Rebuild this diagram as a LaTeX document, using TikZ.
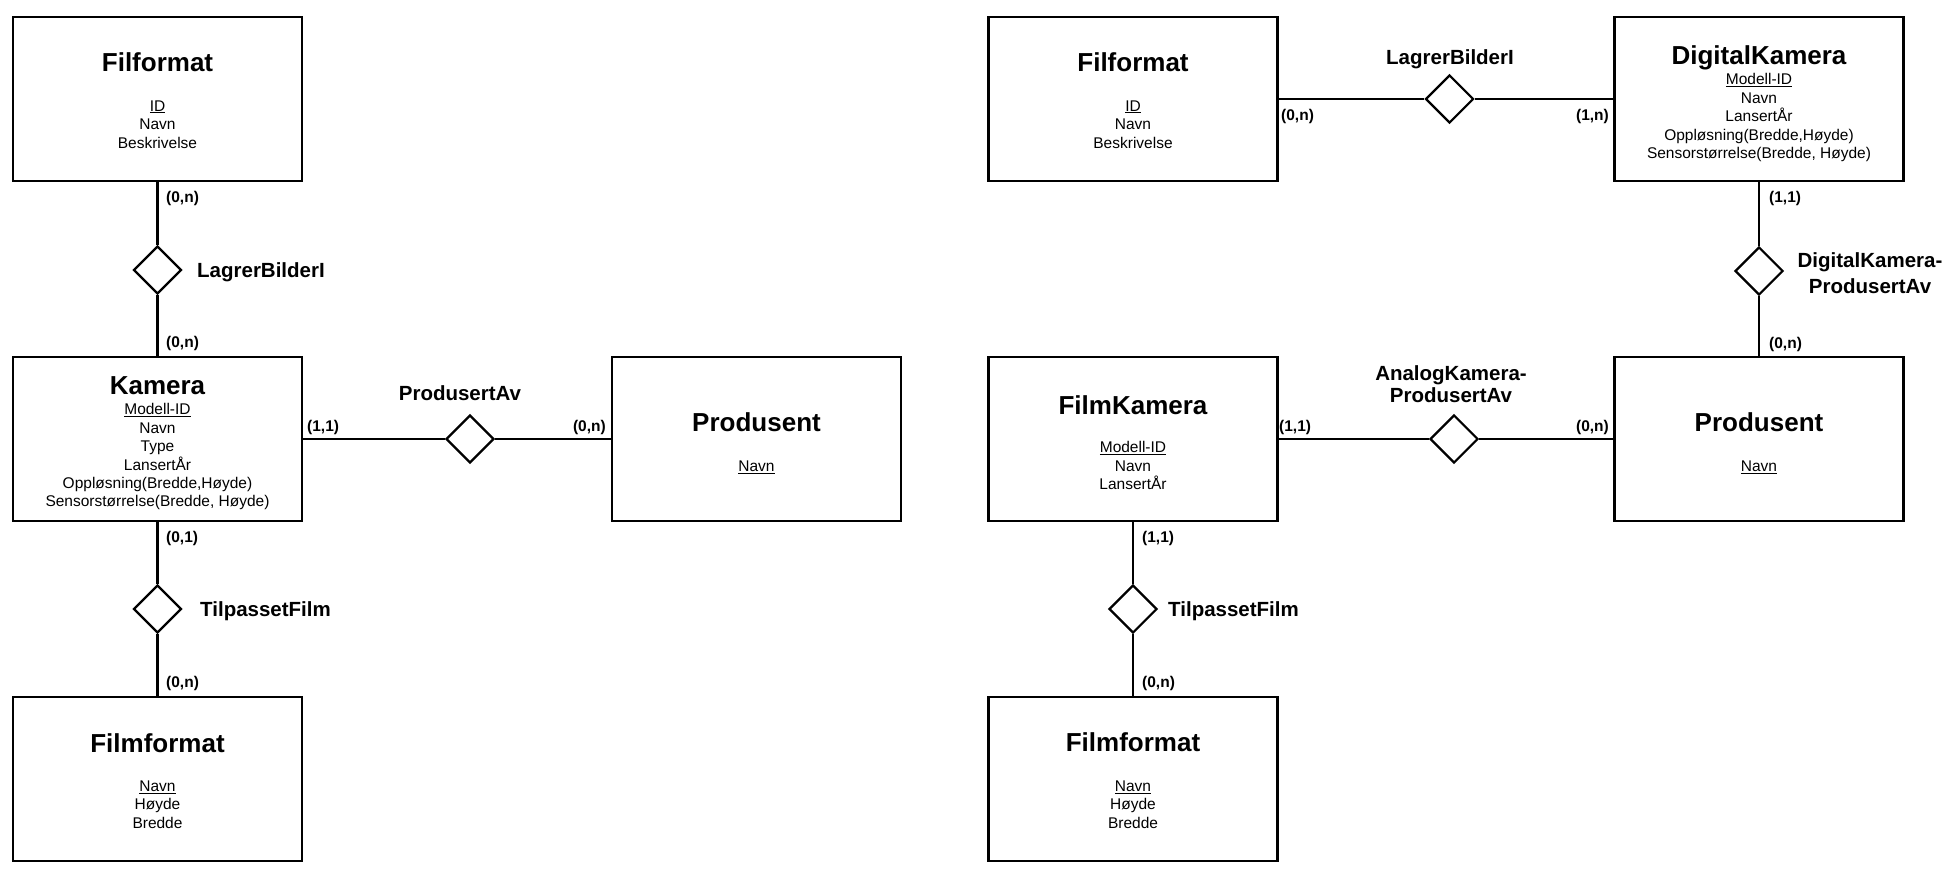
\documentclass[tikz,border=0pt]{standalone}
\usepackage{fontspec}
\setmainfont{Liberation Sans}
\usetikzlibrary{shapes.geometric}
\begin{document}
\begin{tikzpicture}[x=1pt,y=-1pt,
  entity/.style={draw, line width=2.4pt, rectangle, minimum width=289pt, minimum height=164pt, inner sep=0pt},
  rel/.style={draw, diamond, line width=2.2pt, minimum width=48pt, minimum height=48pt, inner sep=0pt, aspect=1},
  etitle/.style={font=\fontsize{26}{30}\selectfont\bfseries, anchor=base, inner sep=0pt},
  attr/.style={font=\fontsize{15.5}{18.4}\selectfont, align=center, anchor=north, inner sep=0pt},
  rname/.style={font=\fontsize{20.5}{26}\selectfont\bfseries, inner sep=0pt},
  card/.style={font=\fontsize{15.5}{18}\selectfont\bfseries, inner sep=0pt},
  link/.style={line width=2.2pt}]
\useasboundingbox (0,0) rectangle (1960,872);

% ---------------- left diagram ----------------
\node[entity] (ffL) at (157.5,99) {};
\node[etitle] (ffLt) at (157.5,71.3) {Filformat};
\node[attr] (ffLa) at (157.5,100.4) {\underline{ID}\\Navn\\Beskrivelse};

\node[entity] (kam) at (157.5,439) {};
\node[etitle] (kamt) at (157.5,394.3) {Kamera};
\node[attr] (kama) at (157.5,403.4) {\underline{Modell-ID}\\Navn\\Type\\LansertÅr\\Oppløsning(Bredde,Høyde)\\Sensorstørrelse(Bredde, Høyde)};

\node[entity] (prL) at (756.5,439) {};
\node[etitle] (prLt) at (756.5,431.3) {Produsent};
\node[attr] (prLa) at (756.5,460.4) {\underline{Navn}};

\node[entity] (fmL) at (157.5,779) {};
\node[etitle] (fmLt) at (157.5,752.3) {Filmformat};
\node[attr] (fmLa) at (157.5,780.4) {\underline{Navn}\\Høyde\\Bredde};

\node[rel] (lbL) at (157.5,270) {};
\node[rname, anchor=base west] (lbLn) at (197,277.4) {LagrerBilderI};
\node[rel] (tfL) at (157.5,609) {};
\node[rname, anchor=base west] (tfLn) at (200,616.4) {TilpassetFilm};
\node[rel] (paL) at (470,439) {};
\node[rname, anchor=base] (paLn) at (460,400.4) {ProdusertAv};

\draw[link] (ffL) -- (lbL);
\draw[link] (lbL) -- (kam);
\draw[link] (kam) -- (tfL);
\draw[link] (tfL) -- (fmL);
\draw[link] (kam) -- (paL);
\draw[link] (paL) -- (prL);

\node[card, anchor=base west] (c1) at (166,202.5) {(0,n)};
\node[card, anchor=base west] (c2) at (166,347.5) {(0,n)};
\node[card, anchor=base west] (c3) at (307,431.5) {(1,1)};
\node[card, anchor=base east] (c4) at (606,431.5) {(0,n)};
\node[card, anchor=base west] (c5) at (166,542.5) {(0,1)};
\node[card, anchor=base west] (c6) at (166,687.5) {(0,n)};

% ---------------- right diagram ----------------
\node[entity] (ffR) at (1133,99) {};
\node[etitle] (ffRt) at (1133,71.3) {Filformat};
\node[attr] (ffRa) at (1133,100.4) {\underline{ID}\\Navn\\Beskrivelse};

\node[entity] (dk) at (1759,99) {};
\node[etitle] (dkt) at (1759,64.3) {DigitalKamera};
\node[attr] (dka) at (1759,73.4) {\underline{Modell-ID}\\Navn\\LansertÅr\\Oppløsning(Bredde,Høyde)\\Sensorstørrelse(Bredde, Høyde)};

\node[entity] (fk) at (1133,439) {};
\node[etitle] (fkt) at (1133,414.3) {FilmKamera};
\node[attr] (fka) at (1133,441.4) {\underline{Modell-ID}\\Navn\\LansertÅr};

\node[entity] (prR) at (1759,439) {};
\node[etitle] (prRt) at (1759,431.3) {Produsent};
\node[attr] (prRa) at (1759,460.4) {\underline{Navn}};

\node[entity] (fmR) at (1133,779) {};
\node[etitle] (fmRt) at (1133,751.3) {Filmformat};
\node[attr] (fmRa) at (1133,780.4) {\underline{Navn}\\Høyde\\Bredde};

\node[rel] (lbR) at (1449.5,99) {};
\node[rname, anchor=base] (lbRn) at (1450,64.4) {LagrerBilderI};
\node[rel] (dpa) at (1759,271) {};
\node[rname, anchor=base, align=center] (dpan1) at (1870,267.4) {DigitalKamera-};
\node[rname, anchor=base] (dpan2) at (1870,293.4) {ProdusertAv};
\node[rel] (apa) at (1454,439) {};
\node[rname, anchor=base] (apan1) at (1451,380.4) {AnalogKamera-};
\node[rname, anchor=base] (apan2) at (1451,402.4) {ProdusertAv};
\node[rel] (tfR) at (1133,609) {};
\node[rname, anchor=base west] (tfRn) at (1168,616.4) {TilpassetFilm};

\draw[link] (ffR) -- (lbR);
\draw[link] (lbR) -- (dk);
\draw[link] (dk) -- (dpa);
\draw[link] (dpa) -- (prR);
\draw[link] (fk) -- (apa);
\draw[link] (apa) -- (prR);
\draw[link] (fk) -- (tfR);
\draw[link] (tfR) -- (fmR);

\node[card, anchor=base west] (d1) at (1281,120.5) {(0,n)};
\node[card, anchor=base east] (d2) at (1609,120.5) {(1,n)};
\node[card, anchor=base west] (d3) at (1769,202.5) {(1,1)};
\node[card, anchor=base west] (d4) at (1769,348.5) {(0,n)};
\node[card, anchor=base west] (d5) at (1279,431.5) {(1,1)};
\node[card, anchor=base east] (d6) at (1609,431.5) {(0,n)};
\node[card, anchor=base west] (d7) at (1142,542.5) {(1,1)};
\node[card, anchor=base west] (d8) at (1142,687.5) {(0,n)};
\end{tikzpicture}
\end{document}
